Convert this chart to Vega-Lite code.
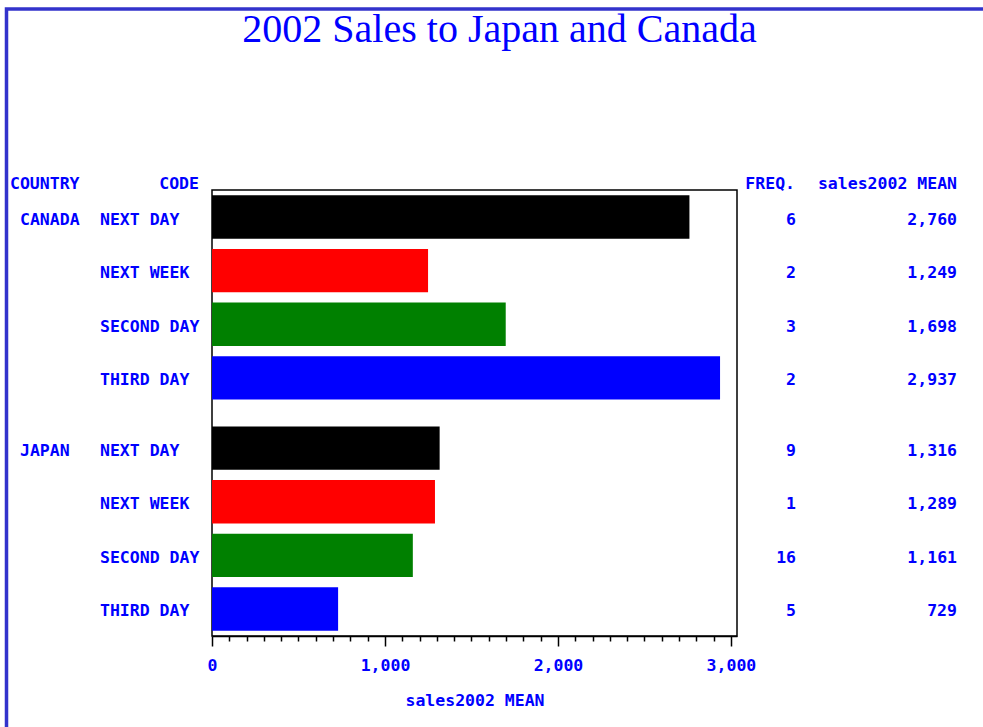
{
  "$schema": "https://vega.github.io/schema/vega-lite/v6.json",
  "width": 525,
  "height": 446,
  "autosize": {"type": "none"},
  "padding": {"left": 212, "top": 190, "right": 246, "bottom": 91},
  "background": "white",
  "title": {"text": "2002 Sales to Japan and Canada", "font": "Liberation Serif", "fontSize": 40, "fontWeight": "normal", "color": "#0000ff", "anchor": "middle", "frame": "group", "dx": 25, "offset": -43},
  "config": {"view": {"stroke": "#000000", "strokeWidth": 1.5}, "font": "DejaVu Sans Mono"},
  "data": {"values": [
    {"country": "CANADA", "code": "NEXT DAY", "freq": 6, "mean": 2760},
    {"country": "CANADA", "code": "NEXT WEEK", "freq": 2, "mean": 1249},
    {"country": "CANADA", "code": "SECOND DAY", "freq": 3, "mean": 1698},
    {"country": "CANADA", "code": "THIRD DAY", "freq": 2, "mean": 2937},
    {"country": "JAPAN", "code": "NEXT DAY", "freq": 9, "mean": 1316},
    {"country": "JAPAN", "code": "NEXT WEEK", "freq": 1, "mean": 1289},
    {"country": "JAPAN", "code": "SECOND DAY", "freq": 16, "mean": 1161},
    {"country": "JAPAN", "code": "THIRD DAY", "freq": 5, "mean": 729}
  ]},
  "encoding": {
    "y": {"field": "country", "type": "nominal", "sort": ["CANADA", "JAPAN"], "scale": {"paddingInner": 0.07, "paddingOuter": 0}, "axis": null},
    "yOffset": {"field": "code", "type": "nominal", "sort": ["NEXT DAY", "NEXT WEEK", "SECOND DAY", "THIRD DAY"], "scale": {"paddingInner": 0.19, "paddingOuter": 0.1}}
  },
  "layer": [
    {
      "data": {"values": [{}]},
      "mark": {"type": "rect", "fillOpacity": 0, "stroke": "#3333cc", "strokeWidth": 3.5},
      "encoding": {"y": {"value": -181}, "y2": {"value": 700}, "x": {"value": -205.5}, "x2": {"value": 900}, "yOffset": null}
    },
    {
      "mark": {"type": "bar"},
      "encoding": {
        "x": {"field": "mean", "type": "quantitative", "scale": {"domain": [0, 3035], "nice": false},
          "axis": {
            "title": "sales2002 MEAN", "titleFont": "DejaVu Sans Mono", "titleFontSize": 16.5, "titleFontWeight": "bold", "titleColor": "#0000ff", "titlePadding": 19,
            "values": [0,100,200,300,400,500,600,700,800,900,1000,1100,1200,1300,1400,1500,1600,1700,1800,1900,2000,2100,2200,2300,2400,2500,2600,2700,2800,2900,3000],
            "labelExpr": "datum.value % 1000 === 0 ? format(datum.value, ',') : ''",
            "labelFont": "DejaVu Sans Mono", "labelFontSize": 16.5, "labelFontWeight": "bold", "labelColor": "#0000ff",
            "labelPadding": 11, "labelOverlap": false, "labelFlush": false,
            "tickSize": {"condition": {"test": "datum.value % 1000 === 0", "value": 10}, "value": 5},
            "tickColor": "#000000", "tickWidth": 1.5, "domainColor": "#000000", "domainWidth": 1.5, "grid": false
          }
        },
        "color": {"field": "code", "type": "nominal", "scale": {"domain": ["NEXT DAY", "NEXT WEEK", "SECOND DAY", "THIRD DAY"], "range": ["#000000", "#ff0000", "#008000", "#0000ff"]}, "legend": null}
      }
    },
    {
      "transform": [{"filter": "datum.code === 'NEXT DAY'"}],
      "mark": {"type": "text", "align": "left", "baseline": "middle", "dy": 2.5, "font": "DejaVu Sans Mono", "fontSize": 16.5, "fontWeight": "bold", "color": "#0000ff"},
      "encoding": {"x": {"value": -192}, "text": {"field": "country"}}
    },
    {
      "mark": {"type": "text", "align": "left", "baseline": "middle", "dy": 2.5, "font": "DejaVu Sans Mono", "fontSize": 16.5, "fontWeight": "bold", "color": "#0000ff"},
      "encoding": {"x": {"value": -112}, "text": {"field": "code"}}
    },
    {
      "mark": {"type": "text", "align": "right", "baseline": "middle", "dy": 2.5, "font": "DejaVu Sans Mono", "fontSize": 16.5, "fontWeight": "bold", "color": "#0000ff"},
      "encoding": {"x": {"value": 584}, "text": {"field": "freq"}}
    },
    {
      "mark": {"type": "text", "align": "right", "baseline": "middle", "dy": 2.5, "font": "DejaVu Sans Mono", "fontSize": 16.5, "fontWeight": "bold", "color": "#0000ff"},
      "encoding": {"x": {"value": 745}, "text": {"field": "mean", "format": ","}}
    },
    {
      "data": {"values": [{"h": "COUNTRY"}]},
      "mark": {"type": "text", "align": "left", "baseline": "middle", "font": "DejaVu Sans Mono", "fontSize": 16.5, "fontWeight": "bold", "color": "#0000ff"},
      "encoding": {"x": {"value": -202}, "y": {"value": -6}, "yOffset": null, "text": {"field": "h"}}
    },
    {
      "data": {"values": [{"h": "CODE"}]},
      "mark": {"type": "text", "align": "right", "baseline": "middle", "font": "DejaVu Sans Mono", "fontSize": 16.5, "fontWeight": "bold", "color": "#0000ff"},
      "encoding": {"x": {"value": -13}, "y": {"value": -6}, "yOffset": null, "text": {"field": "h"}}
    },
    {
      "data": {"values": [{"h": "FREQ."}]},
      "mark": {"type": "text", "align": "right", "baseline": "middle", "font": "DejaVu Sans Mono", "fontSize": 16.5, "fontWeight": "bold", "color": "#0000ff"},
      "encoding": {"x": {"value": 583}, "y": {"value": -6}, "yOffset": null, "text": {"field": "h"}}
    },
    {
      "data": {"values": [{"h": "sales2002 MEAN"}]},
      "mark": {"type": "text", "align": "right", "baseline": "middle", "font": "DejaVu Sans Mono", "fontSize": 16.5, "fontWeight": "bold", "color": "#0000ff"},
      "encoding": {"x": {"value": 745}, "y": {"value": -6}, "yOffset": null, "text": {"field": "h"}}
    }
  ]
}
